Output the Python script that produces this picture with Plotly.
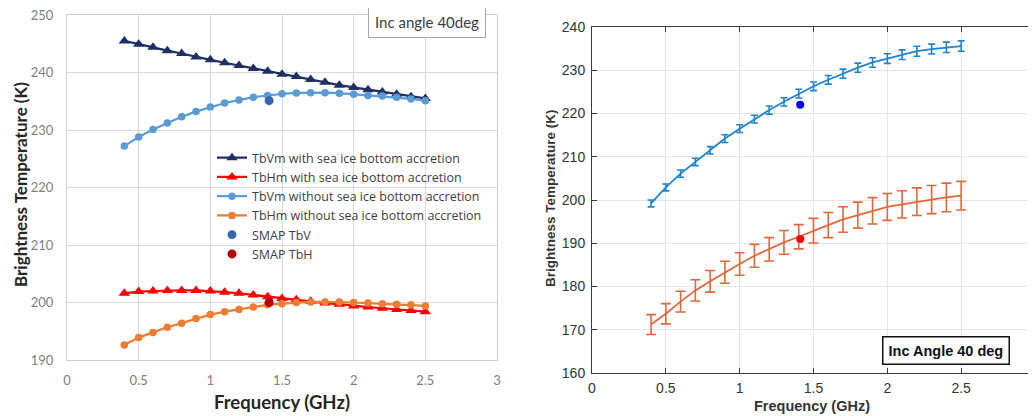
import plotly.graph_objects as go

# ---------------- data ----------------
freq = [0.4, 0.5, 0.6, 0.7, 0.8, 0.9, 1.0, 1.1, 1.2, 1.3, 1.4,
        1.5, 1.6, 1.7, 1.8, 1.9, 2.0, 2.1, 2.2, 2.3, 2.4, 2.5]

# left panel (model with / without sea ice bottom accretion)
tbv_with = [245.5, 244.9, 244.4, 243.8, 243.3, 242.7, 242.2, 241.7, 241.2, 240.7, 240.2,
            239.7, 239.3, 238.8, 238.3, 237.8, 237.4, 237.0, 236.6, 236.2, 235.8, 235.5]
tbh_with = [201.6, 201.9, 202.0, 202.1, 202.1, 202.1, 202.0, 201.8, 201.6, 201.3, 201.0,
            200.7, 200.5, 200.2, 199.9, 199.7, 199.4, 199.2, 199.0, 198.8, 198.6, 198.4]
tbv_without = [227.2, 228.8, 230.1, 231.2, 232.3, 233.2, 234.0, 234.7, 235.2, 235.7, 236.0,
               236.3, 236.45, 236.5, 236.5, 236.4, 236.2, 236.0, 235.9, 235.7, 235.4, 235.1]
tbh_without = [192.6, 193.9, 194.8, 195.7, 196.4, 197.2, 197.9, 198.4, 198.8, 199.2, 199.6,
               199.8, 200.0, 200.1, 200.1, 200.1, 200.0, 199.9, 199.8, 199.7, 199.6, 199.4]
smap_freq = [1.41]
smap_tbv_left = [235.1]
smap_tbh_left = [200.0]

# right panel (mean with error bars)
tbv_mean = [199.2, 202.9, 206.1, 208.8, 211.5, 214.2, 216.5, 218.7, 220.8, 222.7, 224.6,
            226.3, 227.8, 229.2, 230.6, 231.8, 232.7, 233.6, 234.4, 234.9, 235.3, 235.6]
tbv_err = [0.8, 0.8, 0.85, 0.85, 0.85, 0.9, 0.9, 0.9, 0.95, 0.95, 1.0,
           1.0, 1.0, 1.05, 1.05, 1.1, 1.1, 1.1, 1.15, 1.15, 1.2, 1.2]
tbh_mean = [171.2, 173.7, 176.5, 179.1, 181.2, 183.3, 185.2, 187.1, 188.6, 190.2, 191.5,
            192.9, 194.2, 195.5, 196.5, 197.5, 198.4, 199.0, 199.6, 200.1, 200.6, 201.0]
tbh_err = [2.3, 2.35, 2.4, 2.45, 2.5, 2.55, 2.6, 2.65, 2.7, 2.75, 2.8,
           2.85, 2.9, 2.95, 3.0, 3.05, 3.1, 3.15, 3.2, 3.25, 3.3, 3.3]
smap_tbv_right = [222.0]
smap_tbh_right = [191.0]

x_ticks = [0, 0.5, 1, 1.5, 2, 2.5, 3]
x_ticklabels = ["0", "0.5", "1", "1.5", "2", "2.5", "3"]
left_y_ticks = [190, 200, 210, 220, 230, 240, 250]
right_y_ticks = [160, 170, 180, 190, 200, 210, 220, 230, 240]

# ---------------- figure ----------------
# the page body has an 8px default margin, so the figure is drawn 8px smaller
OFF = 8
W, H = 1036 - OFF, 416 - OFF
fig = go.Figure()

NAVY = "#1f2f63"
RED = "#ff0000"
LBLUE = "#5b9bd5"
ORANGE = "#ed7d31"

fig.add_trace(go.Scatter(x=freq, y=tbv_with, mode="lines+markers", name="TbVm with sea ice bottom accretion",
                         line=dict(color=NAVY, width=2.25),
                         marker=dict(symbol="triangle-up", size=10, color=NAVY),
                         xaxis="x", yaxis="y"))
fig.add_trace(go.Scatter(x=freq, y=tbh_with, mode="lines+markers", name="TbHm with sea ice bottom accretion",
                         line=dict(color=RED, width=2.25),
                         marker=dict(symbol="triangle-up", size=10, color=RED),
                         xaxis="x", yaxis="y"))
fig.add_trace(go.Scatter(x=freq, y=tbv_without, mode="lines+markers", name="TbVm without sea ice bottom accretion",
                         line=dict(color=LBLUE, width=2.25),
                         marker=dict(symbol="circle", size=7.5, color=LBLUE),
                         xaxis="x", yaxis="y"))
fig.add_trace(go.Scatter(x=freq, y=tbh_without, mode="lines+markers", name="TbHm without sea ice bottom accretion",
                         line=dict(color=ORANGE, width=2.25),
                         marker=dict(symbol="circle", size=7.5, color=ORANGE),
                         xaxis="x", yaxis="y"))
fig.add_trace(go.Scatter(x=smap_freq, y=smap_tbv_left, mode="markers", name="SMAP TbV",
                         marker=dict(symbol="circle", size=9, color="#3a64b0"),
                         xaxis="x", yaxis="y"))
fig.add_trace(go.Scatter(x=smap_freq, y=smap_tbh_left, mode="markers", name="SMAP TbH",
                         marker=dict(symbol="circle", size=9, color="#b50000"),
                         xaxis="x", yaxis="y"))

MBLUE = "#1f84cf"
MORANGE = "#e2673a"
fig.add_trace(go.Scatter(x=freq, y=tbv_mean, mode="lines", showlegend=False,
                         line=dict(color=MBLUE, width=1.8),
                         error_y=dict(type="data", array=tbv_err, color=MBLUE, thickness=1.6, width=3.5),
                         xaxis="x2", yaxis="y2"))
fig.add_trace(go.Scatter(x=freq, y=tbh_mean, mode="lines", showlegend=False,
                         line=dict(color=MORANGE, width=1.8),
                         error_y=dict(type="data", array=tbh_err, color=MORANGE, thickness=1.6, width=5),
                         xaxis="x2", yaxis="y2"))
fig.add_trace(go.Scatter(x=smap_freq, y=smap_tbv_right, mode="markers", showlegend=False,
                         marker=dict(symbol="circle", size=8, color="#0000ff"),
                         xaxis="x2", yaxis="y2"))
fig.add_trace(go.Scatter(x=smap_freq, y=smap_tbh_right, mode="markers", showlegend=False,
                         marker=dict(symbol="circle", size=8, color="#ff0000"),
                         xaxis="x2", yaxis="y2"))

LFONT = "Lato, Open Sans, sans-serif"
LEGFONT = "Open Sans, Lato, sans-serif"
RFONT = "Liberation Sans, Arial, sans-serif"

# screen pixel -> paper helpers
def px(xp):
    return (xp - OFF) / W

def py(yp):
    return 1 - (yp - OFF) / H

fig.update_layout(
    width=W, height=H,
    margin=dict(l=0, r=0, t=0, b=0, autoexpand=False),
    paper_bgcolor="white", plot_bgcolor="white",
    showlegend=True,
    legend=dict(x=px(212), y=py(143), xanchor="left", yanchor="top",
                bgcolor="rgba(0,0,0,0)", font=dict(family=LEGFONT, size=12.5, color="#404040"),
                tracegroupgap=0, itemwidth=30),
    xaxis=dict(domain=[px(67), px(497)], range=[0, 3], tickvals=x_ticks, ticktext=x_ticklabels,
               showgrid=True, gridcolor="#d9d9d9", gridwidth=1, zeroline=False,
               showline=True, linecolor="#d0d0d0", mirror=True, ticks="",
               tickfont=dict(family=LFONT, size=13, color="#808080"), ticklabelstandoff=8,
               ticklabeloverflow="allow", anchor="y", automargin=False),
    yaxis=dict(domain=[py(360), py(15)], range=[190, 250], tickvals=left_y_ticks,
               showgrid=True, gridcolor="#d9d9d9", gridwidth=1, zeroline=False,
               showline=True, linecolor="#d0d0d0", mirror=True, ticks="",
               tickfont=dict(family=LFONT, size=13, color="#808080"), ticklabelstandoff=10,
               ticklabeloverflow="allow", anchor="x", automargin=False),
    xaxis2=dict(domain=[px(592), px(1035)], range=[0, 3], tickvals=x_ticks, ticktext=x_ticklabels,
                showgrid=True, gridcolor="#e6e6e6", gridwidth=1, zeroline=False,
                showline=True, linecolor="#3a3a3a", linewidth=1, mirror="ticks",
                ticks="inside", ticklen=5, tickcolor="#3a3a3a",
                tickfont=dict(family=RFONT, size=14, color="#333333"), ticklabelstandoff=2,
                ticklabeloverflow="allow", anchor="y2", automargin=False),
    yaxis2=dict(domain=[py(373), py(27)], range=[160, 240], tickvals=right_y_ticks,
                showgrid=True, gridcolor="#e6e6e6", gridwidth=1, zeroline=False,
                showline=True, linecolor="#3a3a3a", linewidth=1, mirror="ticks",
                ticks="inside", ticklen=5, tickcolor="#3a3a3a",
                tickfont=dict(family=RFONT, size=14, color="#333333"), ticklabelstandoff=3,
                ticklabeloverflow="allow", anchor="x2", automargin=False),
)

annotations = [
    # left axis titles
    dict(text="<b>Frequency (GHz)</b>", x=px(282), y=py(402), xref="paper", yref="paper",
         showarrow=False, font=dict(family=LFONT, size=18.5, color="#262626"),
         xanchor="center", yanchor="middle"),
    dict(text="<b>Brightness Temperature (K)</b>", x=px(20), y=py(185), xref="paper", yref="paper",
         showarrow=False, textangle=-90, font=dict(family=LFONT, size=17, color="#262626"),
         xanchor="center", yanchor="middle"),
    # left info box
    dict(text="Inc angle 40deg", x=px(427), y=py(22.5), xref="paper", yref="paper",
         showarrow=False, font=dict(family=LFONT, size=15, color="#404040"),
         xanchor="center", yanchor="middle", bordercolor="#a6a6a6", borderwidth=1,
         borderpad=6, bgcolor="white"),
    # right axis titles
    dict(text="<b>Frequency (GHz)</b>", x=px(812), y=py(406), xref="paper", yref="paper",
         showarrow=False, font=dict(family=RFONT, size=14.5, color="#333333"),
         xanchor="center", yanchor="middle"),
    dict(text="<b>Brightness Temperature (K)</b>", x=px(550), y=py(198), xref="paper", yref="paper",
         showarrow=False, textangle=-90, font=dict(family=RFONT, size=13.5, color="#333333"),
         xanchor="center", yanchor="middle"),
    # right info box
    dict(text="<b>Inc Angle 40 deg</b>", x=px(946), y=py(350), xref="paper", yref="paper",
         showarrow=False, font=dict(family=RFONT, size=14.5, color="#111111"),
         xanchor="center", yanchor="middle", bordercolor="#111111", borderwidth=1.5,
         borderpad=5, bgcolor="white"),
]
fig.update_layout(annotations=annotations)

fig.write_html("out.html")
